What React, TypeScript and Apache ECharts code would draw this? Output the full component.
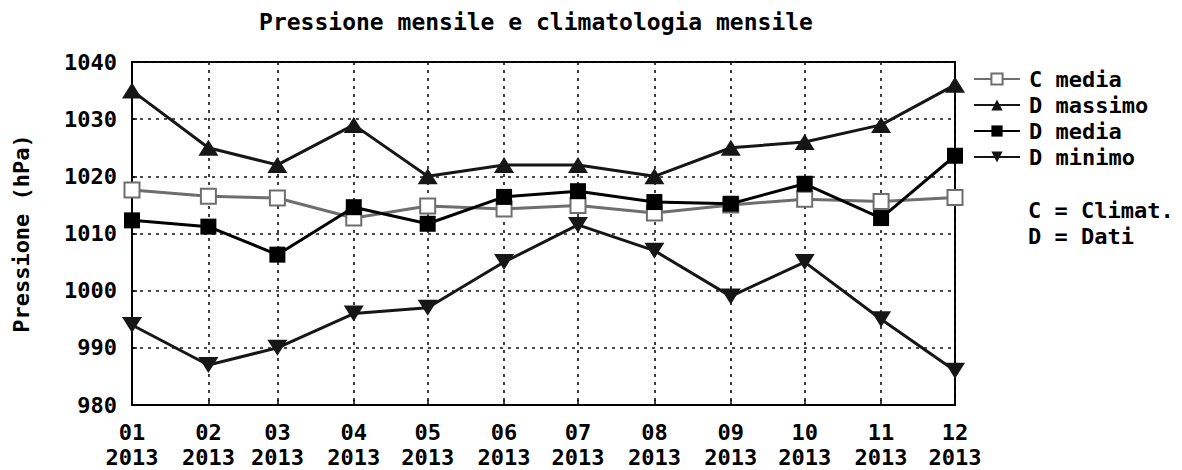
import React, { useEffect, useRef } from "react";
import * as echarts from "echarts";

const YEAR = 2013;
const months = [1, 2, 3, 4, 5, 6, 7, 8, 9, 10, 11, 12];
const cMedia = [1017.6, 1016.5, 1016.2, 1012.7, 1014.8, 1014.3, 1014.9, 1013.6, 1015.0, 1016.0, 1015.6, 1016.3];
const dMassimo = [1035, 1025, 1022, 1029, 1020, 1022, 1022, 1020, 1025, 1026, 1029, 1036];
const dMedia = [1012.3, 1011.2, 1006.3, 1014.6, 1011.7, 1016.4, 1017.4, 1015.5, 1015.2, 1018.7, 1012.7, 1023.6];
const dMinimo = [994, 987, 990, 996, 997, 1005, 1011.5, 1007, 999, 1005, 995, 986];
const yTicks = { min: 980, max: 1040, interval: 10 };
const titleText = "Pressione mensile e climatologia mensile";
const yName = "Pressione (hPa)";
const noteLines = ["C = Climat.", "D = Dati"];

const FONT = "DejaVu Sans Mono";
const DARK = "#161616";
const GRAY = "#6e6e6e";

export default function App() {
  const ref = useRef<HTMLDivElement>(null);
  useEffect(() => {
    document.body.style.margin = "0";
    const chart = echarts.init(ref.current!, null, { renderer: "svg" });
    const pts = (arr: number[]) => arr.map((v, i) => [new Date(YEAR, months[i] - 1, 1).getTime(), v]);
    const lineSeries = (name: string, data: number[], color: string, symbol: string, size: any, hollow = false) => ({
      name,
      type: "line",
      data: pts(data),
      symbol,
      symbolSize: size,
      showSymbol: true,
      lineStyle: { color, width: 3 },
      itemStyle: hollow ? { color: "#ffffff", borderColor: color, borderWidth: 2 } : { color, borderWidth: 0 },
      z: hollow ? 2 : 3,
    });
    chart.setOption({
      animation: false,
      backgroundColor: "#ffffff",
      textStyle: { fontFamily: FONT, fontWeight: "bold", color: "#000" },
      grid: { left: 132, right: 227, top: 62, bottom: 64, show: true, borderColor: "#000", borderWidth: 2, backgroundColor: "transparent" },
      xAxis: {
        type: "time",
        min: new Date(YEAR, 0, 1).getTime(),
        max: new Date(YEAR, 11, 1).getTime(),
        splitNumber: 11,
        axisLine: { show: true, lineStyle: { color: "#000", width: 2 } },
        axisTick: { show: true, inside: true, length: 5, lineStyle: { color: "#000", width: 1.5 } },
        axisLabel: {
          fontFamily: FONT,
          fontWeight: "bold",
          fontSize: 22,
          lineHeight: 25,
          color: "#000",
          margin: 15,
          hideOverlap: false,
          showMinLabel: true,
          showMaxLabel: true,
          formatter: (val: number) => {
            const d = new Date(val);
            const m = String(d.getMonth() + 1).padStart(2, "0");
            return m + "\n" + d.getFullYear();
          },
        },
        splitLine: { show: true, lineStyle: { color: "#111", width: 1.6, type: [3, 5] } },
      },
      yAxis: {
        type: "value",
        min: yTicks.min,
        max: yTicks.max,
        interval: yTicks.interval,
        name: yName,
        nameLocation: "middle",
        nameGap: 100,
        nameTextStyle: { fontFamily: FONT, fontWeight: "bold", fontSize: 22, color: "#000" },
        axisLine: { show: true, lineStyle: { color: "#000", width: 2 } },
        axisTick: { show: true, inside: true, length: 5, lineStyle: { color: "#000", width: 1.5 } },
        axisLabel: { fontFamily: FONT, fontWeight: "bold", fontSize: 22, color: "#000", margin: 15, formatter: (v: number) => String(v) },
        splitLine: { show: true, lineStyle: { color: "#111", width: 1.6, type: [3, 5] } },
      },
      legend: {
        orient: "vertical",
        left: 968,
        top: 63,
        itemWidth: 46,
        itemHeight: 14,
        itemGap: 4,
        textStyle: { fontFamily: FONT, fontWeight: "bold", fontSize: 22, color: "#000", lineHeight: 20, padding: [0, 0, 0, 4] },
        data: ["C media", "D massimo", "D media", "D minimo"],
      },
      graphic: [
        {
          type: "text",
          x: 536,
          y: 22,
          style: { text: titleText, font: `bold 23px "${FONT}"`, fill: "#000", textAlign: "center", textVerticalAlign: "middle" },
        },
        ...noteLines.map((t, i) => ({
          type: "text",
          x: 1028,
          y: 210 + i * 26,
          style: { text: t, font: `bold 22px "${FONT}"`, fill: "#000", textAlign: "left", textVerticalAlign: "middle" },
        })),
      ],
      series: [
        lineSeries("C media", cMedia, GRAY, "rect", 15, true),
        lineSeries("D massimo", dMassimo, DARK, "triangle", [20, 16]),
        lineSeries("D media", dMedia, "#000", "rect", 16),
        { ...lineSeries("D minimo", dMinimo, DARK, "triangle", [20, 16]), symbolRotate: 180 },
      ],
    });
    return () => chart.dispose();
  }, []);
  return <div ref={ref} style={{ width: 1182, height: 470 }} />;
}
